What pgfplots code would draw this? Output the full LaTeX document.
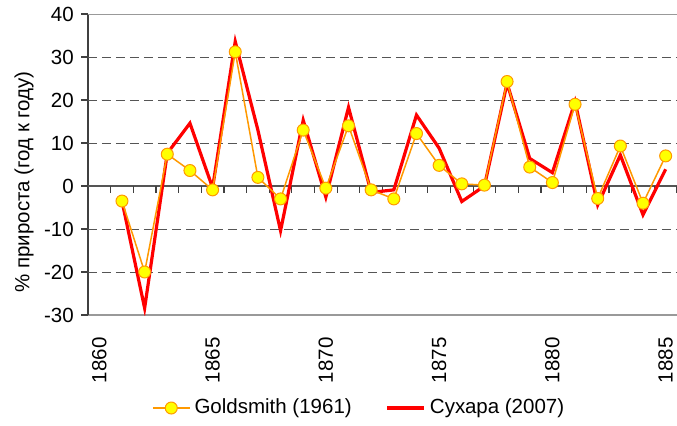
\documentclass[border=0pt]{standalone}
\usepackage{fontspec}
\setmainfont{Liberation Sans}
\usepackage{pgfplots}
\pgfplotsset{compat=1.18}
\definecolor{goldl}{HTML}{FF9900}
\definecolor{yel}{HTML}{FFFF00}
\definecolor{redl}{HTML}{FF0000}
\definecolor{gridc}{HTML}{555555}
\definecolor{framec}{HTML}{999999}
\definecolor{axisc}{HTML}{404040}
\begin{document}
\fontsize{10.25}{12.3}\selectfont
\begin{tikzpicture}
\begin{axis}[
  scale only axis, width=294.5pt, height=150.5pt,
  xmin=1859.5, xmax=1885.5, ymin=-30, ymax=40,
  axis x line*=bottom, axis y line*=left,
  x axis line style={framec, line width=0.6pt},
  y axis line style={axisc, line width=0.8pt},
  xtick={1860,1865,1870,1875,1880,1885},
  xticklabels={1860,1865,1870,1875,1880,1885},
  xtick style={draw=none},
  xticklabel style={rotate=90, anchor=east, inner xsep=7.5pt, inner ysep=0pt},
  ytick={-30,-20,-10,0,10,20,30,40},
  yticklabels={-30,-20,-10,0,10,20,30,40},
  tick align=outside,
  y tick style={axisc, line width=0.6pt},
  major tick length=3.5pt,
  ylabel={\% прироста (год к году)},
  ylabel style={at={(axis description cs:-0.1087,0.442)}, anchor=center},
  legend columns=2,
  legend style={draw=none, fill=none, at={(0.462,-0.309)}, anchor=center,
    font=\fontsize{10.25}{12.3}\selectfont,
    /tikz/every even column/.append style={column sep=15pt}},
  legend image code/.code={\draw[mark repeat=2,mark phase=2,#1] plot coordinates {(0pt,0pt)(9.25pt,0pt)(18.5pt,0pt)};},
]
% grid lines
\pgfplotsinvokeforeach{-20,-10,10,20,30}{
  \draw[gridc, line width=0.5pt, dash pattern=on 4.5pt off 2.5pt] (axis cs:1859.5,#1) -- (axis cs:1885.5,#1);
}
\draw[framec, line width=0.6pt] (axis cs:1859.5,40) -- (axis cs:1885.5,40);
\draw[gridc, line width=0.7pt] (axis cs:1859.5,0) -- (axis cs:1885.5,0);
\pgfplotsinvokeforeach{1860.5,1861.5,...,1885.5}{
  \draw[axisc, line width=0.6pt] (axis cs:#1,0) -- ++(0pt,-3.3pt);
}
% Sukhara (2007)
\addplot[redl, line width=1.6pt, forget plot] coordinates {
(1861,-3.5) (1862,-28.4) (1863,7.6) (1864,14.6) (1865,-0.4) (1866,33.6)
(1867,13.0) (1868,-10.4) (1869,15.3) (1870,-2.6) (1871,18.3) (1872,-1.5)
(1873,-0.9) (1874,16.5) (1875,8.8) (1876,-3.6) (1877,0.0) (1878,23.9)
(1879,6.4) (1880,3.1) (1881,19.6) (1882,-4.4) (1883,7.2) (1884,-6.7) (1885,3.9)
};
% Goldsmith (1961)
\addplot[goldl, line width=0.75pt, mark=*, mark size=3pt,
  mark options={fill=yel, draw=goldl, line width=0.5pt}] coordinates {
(1861,-3.5) (1862,-20.0) (1863,7.4) (1864,3.6) (1865,-0.9) (1866,31.2)
(1867,2.0) (1868,-3.0) (1869,13.0) (1870,-0.5) (1871,14.0) (1872,-0.9)
(1873,-3.0) (1874,12.2) (1875,4.8) (1876,0.5) (1877,0.2) (1878,24.3)
(1879,4.4) (1880,0.8) (1881,19.0) (1882,-2.9) (1883,9.3) (1884,-4.0) (1885,7.0)
};
\addlegendentry{Goldsmith (1961)}
\addlegendimage{redl, line width=1.6pt}
\addlegendentry{Сухара (2007)}
\end{axis}
\pgfresetboundingbox
\path[use as bounding box] (-44pt,-55pt) rectangle (294.5pt,157.5pt);
\end{tikzpicture}
\end{document}
